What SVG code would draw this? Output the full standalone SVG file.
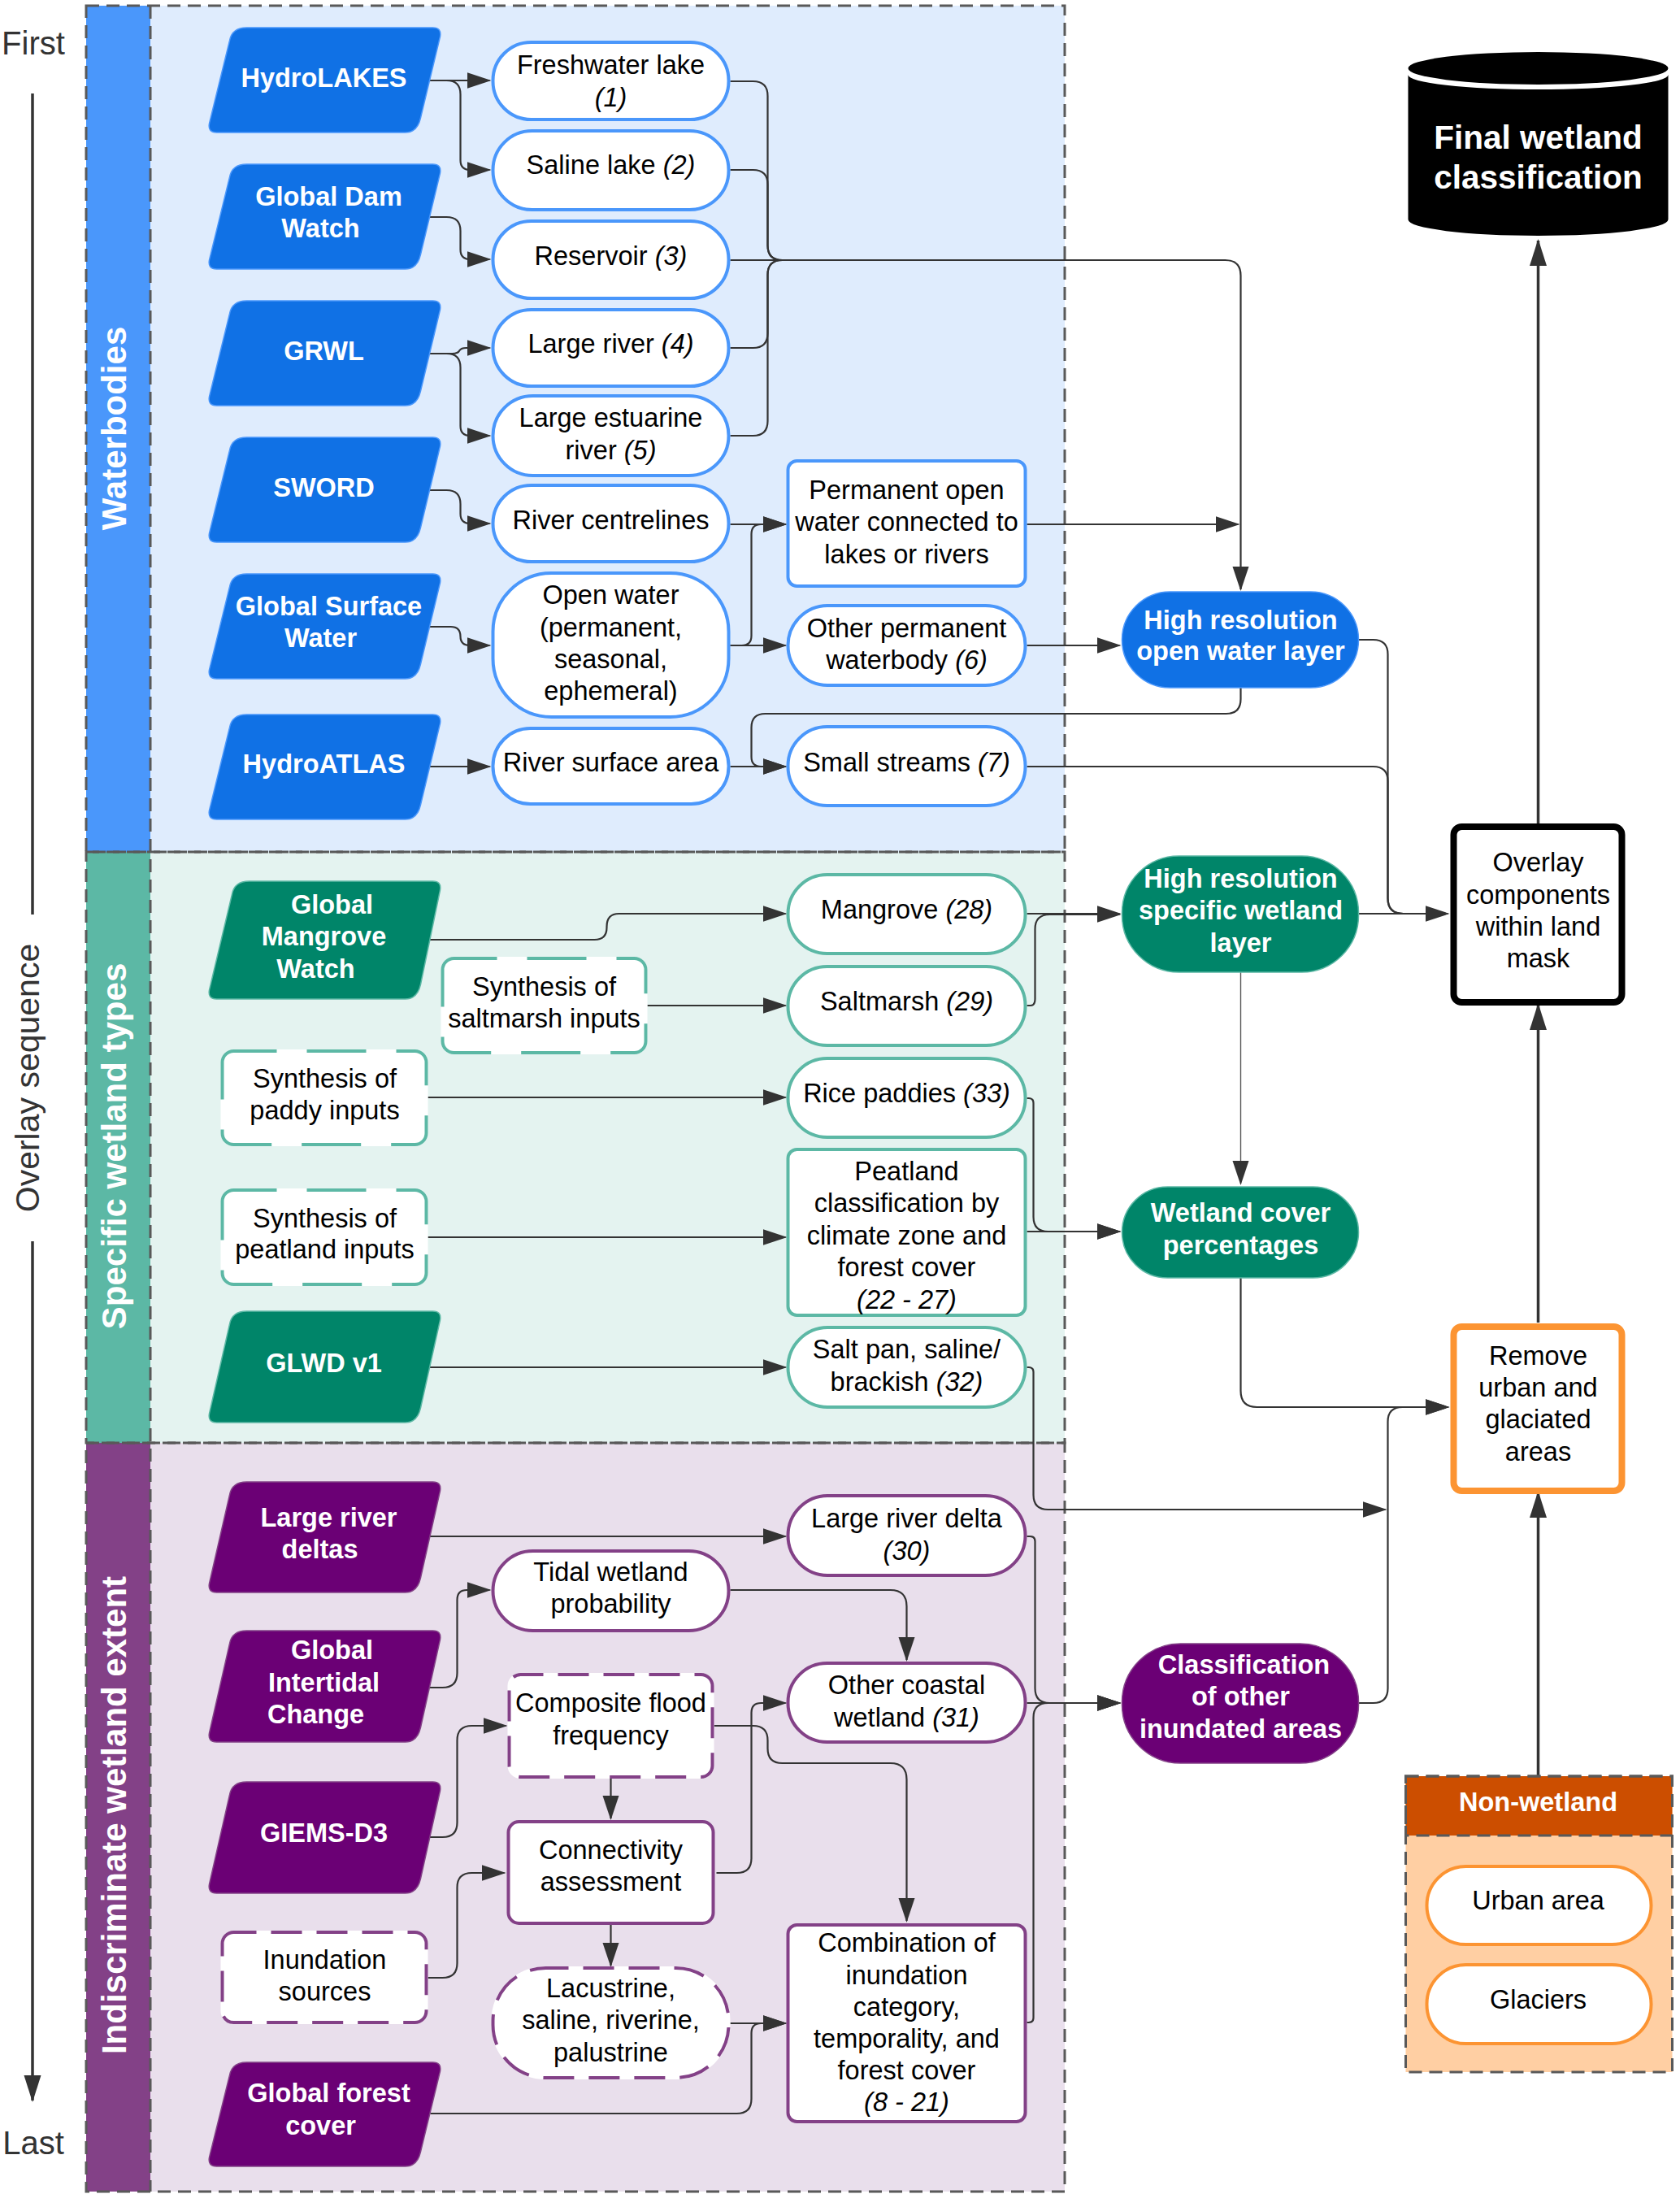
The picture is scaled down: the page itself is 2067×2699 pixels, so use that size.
<svg xmlns="http://www.w3.org/2000/svg" width="2067" height="2699" viewBox="0 0 2067 2699">
<style>
text{font-family:"Liberation Sans",Arial,sans-serif;font-size:32.5px;text-anchor:middle;fill:#000}
.b{font-weight:700;fill:#fff}
.i{font-style:italic}
.h{font-weight:700;fill:#fff;font-size:42px}
.s{fill:#333;font-size:40px}
.frame{stroke:#595959;stroke-width:3;stroke-dasharray:16 9;fill:none}
.cn{fill:none;stroke:#333;stroke-width:2.2}
.cn path{marker-end:url(#a)}
.cn path.n{marker-end:none}
.cn path.t{stroke-width:1.4;stroke:#555}
.th{fill:none;stroke:#333;stroke-width:3.5;marker-end:url(#b)}
.cn path.th{marker-end:url(#b);stroke-width:3.5}
.pl{fill:none;stroke:#333;stroke-width:3.5}
.bl{fill:#fff;stroke:#4a97fb;stroke-width:4}
.gr{fill:#fff;stroke:#5cb8a5;stroke-width:4}
.pu{fill:#fff;stroke:#834187;stroke-width:4}
.or{fill:#fff;stroke:#fc9432;stroke-width:4}
.dbl{fill:#1071e5;stroke:#4a97fb;stroke-width:1.5}
.dgr{fill:#008569;stroke:#5cb8a5;stroke-width:1.5}
.dpu{fill:#6b0075;stroke:#834187;stroke-width:1.5}
.u{fill:#fff;stroke:#fff;stroke-width:4}
.dg{fill:none;stroke:#5cb8a5;stroke-width:4;stroke-dasharray:73 37;stroke-dashoffset:20}
.dp{fill:none;stroke:#834187;stroke-width:4;stroke-dasharray:38 18;stroke-dashoffset:10}
</style>
<defs>
<marker id="a" markerUnits="userSpaceOnUse" markerWidth="32" markerHeight="22" refX="28" refY="11" orient="auto"><path d="M0 1 L30 11 L0 21 Z" fill="#333"/></marker>
<marker id="b" markerUnits="userSpaceOnUse" markerWidth="36" markerHeight="24" refX="31" refY="12" orient="auto"><path d="M0 1.500 L33 12 L0 22.500 Z" fill="#333"/></marker>
</defs>
<rect width="2067" height="2699" fill="#fff"/>

<g id="sections">
<rect x="185" y="7" width="1125" height="1041" fill="#dfecfd"/>
<rect x="106" y="7" width="79" height="1041" fill="#4a97fb"/>
<rect x="185" y="1048" width="1125" height="727" fill="#e4f3f0"/>
<rect x="106" y="1048" width="79" height="727" fill="#5cb8a5"/>
<rect x="185" y="1775" width="1125" height="921" fill="#e9dfec"/>
<rect x="106" y="1775" width="79" height="921" fill="#834187"/>
<rect class="frame" x="106" y="7" width="1204" height="1041"/>
<rect class="frame" x="106" y="1048" width="1204" height="727"/>
<rect class="frame" x="106" y="1775" width="1204" height="921"/>
<path class="frame" d="M185 7V2696"/>
<text class="h" transform="translate(155 527) rotate(-90)">Waterbodies</text>
<text class="h" transform="translate(155 1410) rotate(-90)">Specific wetland types</text>
<text class="h" transform="translate(155 2233) rotate(-90)">Indiscriminate wetland extent</text>
</g>

<g id="sequence">
<text class="s" x="41" y="67">First</text>
<text class="s" x="41" y="2650">Last</text>
<text class="s" style="font-size:41px" transform="translate(48 1326) rotate(-90)">Overlay sequence</text>
<path class="pl" d="M40 115V1125"/>
<path class="th" d="M40 1527V2584"/>
</g>

<g transform="translate(1.500 0)">
<g id="connectors" class="cn">
<path d="M526 99H601"/>
<path d="M526 99H548Q565 99 565 116V197Q565 209 577 209H601"/>
<path d="M526 267H548Q565 267 565 284V307Q565 319 577 319H601"/>
<path d="M526 435H555Q562 435 564 431Q566 428 572 428H601"/>
<path d="M526 435H548Q565 435 565 452V524Q565 536 577 536H601"/>
<path d="M526 603H548Q565 603 565 620V632Q565 644 577 644H601"/>
<path d="M526 771H553Q565 771 565 783Q565 794 577 794H601"/>
<path d="M527 943H601"/>
<path class="n" d="M897 100H925Q943 100 943 118V302Q943 320 961 320"/>
<path class="n" d="M897 209H925Q943 209 943 227V302Q943 320 961 320"/>
<path d="M897 320H1506Q1525 320 1525 339V725"/>
<path class="n" d="M897 428H925Q943 428 943 410V338Q943 320 961 320"/>
<path class="n" d="M897 536H925Q943 536 943 518V338Q943 320 961 320"/>
<path d="M897 645H965"/>
<path d="M897 794H965"/>
<path d="M897 794H911Q923 794 923 782V657Q923 645 935 645H965"/>
<path d="M1262 645H1522"/>
<path d="M1262 794H1376"/>
<path d="M1525 846V860Q1525 878 1507 878H940Q923 878 923 895V931Q923 943 935 943H965"/>
<path d="M897 943H965"/>
<path class="n" d="M1670 787H1688Q1706 787 1706 805V1105Q1706 1124 1725 1124"/>
<path class="n" d="M1262 943H1688Q1706 943 1706 961V1105Q1706 1124 1725 1124"/>
<path d="M1670 1124H1780"/>
<path d="M525 1156H730Q745 1156 745 1141V1140Q745 1124 760 1124H965"/>
<path d="M795 1237H965"/>
<path d="M525 1350H965"/>
<path d="M525 1522H965"/>
<path d="M526 1682H965"/>
<path d="M526 1890H965"/>
<path d="M1262 1124H1376"/>
<path d="M1262 1237H1266Q1272 1237 1272 1229V1143Q1272 1125 1290 1125H1376"/>
<path d="M1262 1351H1264Q1270 1351 1270 1357V1497Q1270 1515 1288 1515H1376"/>
<path d="M1262 1515H1376"/>
<path class="t" d="M1525 1196V1456"/>
<path d="M1525 1572V1711Q1525 1731 1545 1731H1780"/>
<path d="M1670 2095H1688Q1706 2095 1706 2077V1749Q1706 1731 1724 1731H1780"/>
<path d="M1262 1682H1264Q1270 1682 1270 1688V1839Q1270 1857 1288 1857H1703"/>
<path d="M1262 1890H1266Q1272 1890 1272 1896V2077Q1272 2095 1290 2095H1376"/>
<path d="M1262 2095H1376"/>
<path d="M1262 2488H1264Q1270 2488 1270 2482V2113Q1270 2095 1288 2095H1376"/>
<path d="M526 2076H543Q561 2076 561 2058V1968Q561 1956 573 1956H601"/>
<path d="M897 1956H1094Q1114 1956 1114 1976V2042"/>
<path d="M526 2260H543Q561 2260 561 2242V2141Q561 2123 579 2123H621"/>
<path d="M877 2123H925Q943 2123 943 2141V2151Q943 2169 961 2169H1094Q1114 2169 1114 2189V2363"/>
<path d="M750 2186V2237"/>
<path d="M750 2366V2418"/>
<path d="M880 2304H905Q923 2304 923 2286V2107Q923 2095 935 2095H965"/>
<path d="M525 2433H543Q561 2433 561 2415V2322Q561 2304 579 2304H619"/>
<path d="M897 2489H965"/>
<path d="M528 2600H905Q923 2600 923 2582V2501Q923 2489 935 2489H965"/>
<path class="th" d="M1891 1014V296"/>
<path class="th" d="M1891 1627V1236"/>
<path class="th" d="M1891 2185V1836"/>
</g>

<g id="hydrolakes"><path class="dbl" d="M302 34H531Q542 34 540 45L516 145Q512 163 497 163H265Q254 163 256 152L281 50Q284 34 302 34Z"/><text class="b" x="397" y="107">HydroLAKES</text></g>
<g id="global-dam-watch"><path class="dbl" d="M302 202H531Q542 202 540 213L516 313Q512 331 497 331H265Q254 331 256 320L281 218Q284 202 302 202Z"/><text class="b" x="403" y="253">Global Dam</text><text class="b" x="393" y="292">Watch</text></g>
<g id="grwl"><path class="dbl" d="M302 370H531Q542 370 540 381L516 481Q512 499 497 499H265Q254 499 256 488L281 386Q284 370 302 370Z"/><text class="b" x="397" y="443">GRWL</text></g>
<g id="sword"><path class="dbl" d="M302 538H531Q542 538 540 549L516 649Q512 667 497 667H265Q254 667 256 656L281 554Q284 538 302 538Z"/><text class="b" x="397" y="611">SWORD</text></g>
<g id="global-surface-water"><path class="dbl" d="M302 706H531Q542 706 540 717L516 817Q512 835 497 835H265Q254 835 256 824L281 722Q284 706 302 706Z"/><text class="b" x="403" y="757">Global Surface</text><text class="b" x="393" y="796">Water</text></g>
<g id="hydroatlas"><path class="dbl" d="M302 879H531Q542 879 540 890L516 990Q512 1008 497 1008H265Q254 1008 256 997L281 895Q284 879 302 879Z"/><text class="b" x="397" y="951">HydroATLAS</text></g>

<g id="freshwater-lake"><rect class="bl" x="605" y="52" width="290" height="95" rx="47"/><text x="750" y="91">Freshwater lake</text><text class="i" x="750" y="131">(1)</text></g>
<g id="saline-lake"><rect class="bl" x="605" y="161" width="290" height="97" rx="48"/><text x="750" y="214">Saline lake <tspan class="i">(2)</tspan></text></g>
<g id="reservoir"><rect class="bl" x="605" y="272" width="290" height="95" rx="47"/><text x="750" y="326">Reservoir <tspan class="i">(3)</tspan></text></g>
<g id="large-river"><rect class="bl" x="605" y="381" width="290" height="94" rx="47"/><text x="750" y="434">Large river <tspan class="i">(4)</tspan></text></g>
<g id="large-estuarine-river"><rect class="bl" x="605" y="487" width="290" height="98" rx="49"/><text x="750" y="525">Large estuarine</text><text x="750" y="565">river <tspan class="i">(5)</tspan></text></g>
<g id="river-centrelines"><rect class="bl" x="605" y="597" width="290" height="94" rx="47"/><text x="750" y="651">River centrelines</text></g>
<g id="open-water"><rect class="bl" x="605" y="705" width="290" height="177" rx="72"/><text x="750" y="743">Open water</text><text x="750" y="783">(permanent,</text><text x="750" y="822">seasonal,</text><text x="750" y="861">ephemeral)</text></g>
<g id="river-surface-area"><rect class="bl" x="605" y="896" width="290" height="93" rx="46"/><text x="750" y="949">River surface area</text></g>
<g id="permanent-open-water"><rect class="bl" x="968" y="567" width="292" height="154" rx="11"/><text x="1114" y="614">Permanent open</text><text x="1114" y="653">water connected to</text><text x="1114" y="693">lakes or rivers</text></g>
<g id="other-permanent-waterbody"><rect class="bl" x="968" y="745" width="292" height="98" rx="49"/><text x="1114" y="784">Other permanent</text><text x="1114" y="823">waterbody <tspan class="i">(6)</tspan></text></g>
<g id="small-streams"><rect class="bl" x="968" y="894" width="292" height="97" rx="48"/><text x="1114" y="949">Small streams <tspan class="i">(7)</tspan></text></g>
<g id="high-res-open-water"><rect class="dbl" x="1379" y="728" width="291" height="118" rx="59"/><text class="b" x="1525" y="774">High resolution</text><text class="b" x="1525" y="812">open water layer</text></g>

<g id="global-mangrove-watch"><path class="dgr" d="M305 1084H531Q542 1084 540 1095L516 1211Q512 1229 497 1229H265Q254 1229 256 1218L284 1100Q287 1084 305 1084Z"/><text class="b" x="407" y="1124">Global</text><text class="b" x="397" y="1163">Mangrove</text><text class="b" x="387" y="1203">Watch</text></g>
<g id="synthesis-saltmarsh"><rect class="u" x="543" y="1179" width="250" height="116" rx="14"/><rect class="dg" x="543" y="1179" width="250" height="116" rx="14"/><text x="668" y="1225">Synthesis of</text><text x="668" y="1264">saltmarsh inputs</text></g>
<g id="synthesis-paddy"><rect class="u" x="272" y="1293" width="251" height="115" rx="14"/><rect class="dg" x="272" y="1293" width="251" height="115" rx="14"/><text x="398" y="1338">Synthesis of</text><text x="398" y="1377">paddy inputs</text></g>
<g id="synthesis-peatland"><rect class="u" x="272" y="1464" width="251" height="116" rx="14"/><rect class="dg" x="272" y="1464" width="251" height="116" rx="14"/><text x="398" y="1510">Synthesis of</text><text x="398" y="1548">peatland inputs</text></g>
<g id="glwd"><path class="dgr" d="M302 1613H531Q542 1613 540 1624L516 1732Q512 1750 497 1750H265Q254 1750 256 1739L281 1629Q284 1613 302 1613Z"/><text class="b" x="397" y="1688">GLWD v1</text></g>
<g id="mangrove"><rect class="gr" x="968" y="1076" width="292" height="97" rx="48"/><text x="1114" y="1130">Mangrove <tspan class="i">(28)</tspan></text></g>
<g id="saltmarsh"><rect class="gr" x="968" y="1189" width="292" height="97" rx="48"/><text x="1114" y="1243">Saltmarsh <tspan class="i">(29)</tspan></text></g>
<g id="rice-paddies"><rect class="gr" x="968" y="1302" width="292" height="97" rx="48"/><text x="1114" y="1356">Rice paddies <tspan class="i">(33)</tspan></text></g>
<g id="peatland"><rect class="gr" x="968" y="1414" width="292" height="204" rx="11"/><text x="1114" y="1452">Peatland</text><text x="1114" y="1491">classification by</text><text x="1114" y="1531">climate zone and</text><text x="1114" y="1570">forest cover</text><text class="i" x="1114" y="1610">(22 - 27)</text></g>
<g id="salt-pan"><rect class="gr" x="968" y="1633" width="292" height="98" rx="49"/><text x="1114" y="1671">Salt pan, saline/</text><text x="1114" y="1711">brackish <tspan class="i">(32)</tspan></text></g>
<g id="high-res-specific"><rect class="dgr" x="1379" y="1053" width="291" height="143" rx="70"/><text class="b" x="1525" y="1092">High resolution</text><text class="b" x="1525" y="1131">specific wetland</text><text class="b" x="1525" y="1171">layer</text></g>
<g id="wetland-cover"><rect class="dgr" x="1379" y="1460" width="291" height="112" rx="56"/><text class="b" x="1525" y="1503">Wetland cover</text><text class="b" x="1525" y="1543">percentages</text></g>

<g id="large-river-deltas"><path class="dpu" d="M302 1823H531Q542 1823 540 1834L516 1941Q512 1959 497 1959H265Q254 1959 256 1948L281 1839Q284 1823 302 1823Z"/><text class="b" x="403" y="1878">Large river</text><text class="b" x="392" y="1917">deltas</text></g>
<g id="global-intertidal-change"><path class="dpu" d="M302 2006H531Q542 2006 540 2017L516 2125Q512 2143 497 2143H265Q254 2143 256 2132L281 2022Q284 2006 302 2006Z"/><text class="b" x="407" y="2041">Global</text><text class="b" x="397" y="2081">Intertidal</text><text class="b" x="387" y="2120">Change</text></g>
<g id="giems-d3"><path class="dpu" d="M302 2192H531Q542 2192 540 2203L516 2311Q512 2329 497 2329H265Q254 2329 256 2318L281 2208Q284 2192 302 2192Z"/><text class="b" x="397" y="2266">GIEMS-D3</text></g>
<g id="inundation-sources"><rect class="u" x="272" y="2377" width="251" height="111" rx="14"/><rect class="dp" x="272" y="2377" width="251" height="111" rx="14"/><text x="398" y="2422">Inundation</text><text x="398" y="2461">sources</text></g>
<g id="global-forest-cover"><path class="dpu" d="M302 2537H531Q542 2537 540 2548L516 2647Q512 2665 497 2665H265Q254 2665 256 2654L281 2553Q284 2537 302 2537Z"/><text class="b" x="403" y="2586">Global forest</text><text class="b" x="393" y="2626">cover</text></g>
<g id="tidal-wetland"><rect class="pu" x="605" y="1908" width="290" height="98" rx="49"/><text x="750" y="1945">Tidal wetland</text><text x="750" y="1984">probability</text></g>
<g id="composite-flood"><rect class="u" x="625" y="2060" width="250" height="126" rx="14"/><rect class="dp" x="625" y="2060" width="250" height="126" rx="14"/><text x="750" y="2106">Composite flood</text><text x="750" y="2146">frequency</text></g>
<g id="connectivity"><rect class="pu" x="624" y="2241" width="252" height="125" rx="13"/><text x="750" y="2287">Connectivity</text><text x="750" y="2326">assessment</text></g>
<g id="lacustrine"><rect class="u" x="605" y="2421" width="290" height="135" rx="65"/><rect class="dp" x="605" y="2421" width="290" height="135" rx="65"/><text x="750" y="2457">Lacustrine,</text><text x="750" y="2496">saline, riverine,</text><text x="750" y="2536">palustrine</text></g>
<g id="large-river-delta"><rect class="pu" x="968" y="1840" width="292" height="98" rx="49"/><text x="1114" y="1879">Large river delta</text><text class="i" x="1114" y="1919">(30)</text></g>
<g id="other-coastal"><rect class="pu" x="968" y="2046" width="292" height="97" rx="48"/><text x="1114" y="2084">Other coastal</text><text x="1114" y="2124">wetland <tspan class="i">(31)</tspan></text></g>
<g id="combination"><rect class="pu" x="968" y="2368" width="292" height="242" rx="11"/><text x="1114" y="2401">Combination of</text><text x="1114" y="2441">inundation</text><text x="1114" y="2480">category,</text><text x="1114" y="2519">temporality, and</text><text x="1114" y="2558">forest cover</text><text class="i" x="1114" y="2597">(8 - 21)</text></g>
<g id="classification-inundated"><rect class="dpu" x="1379" y="2022" width="291" height="147" rx="72"/><text class="b" x="1529" y="2059">Classification</text><text class="b" x="1525" y="2098">of other</text><text class="b" x="1525" y="2138">inundated areas</text></g>

<g id="final-classification"><ellipse cx="1891" cy="84" rx="160" ry="20" fill="#000"/><path d="M1731 92V270A160 20 0 0 0 2051 270V92A160 18 0 0 1 1731 92Z" fill="#000"/><text class="b" style="font-size:40.500px" x="1891" y="183">Final wetland</text><text class="b" style="font-size:40.500px" x="1891" y="232">classification</text></g>
<g id="overlay"><rect x="1787" y="1017" width="207" height="216" rx="10" fill="#fff" stroke="#000" stroke-width="8"/><text x="1891" y="1072">Overlay</text><text x="1891" y="1112">components</text><text x="1891" y="1151">within land</text><text x="1891" y="1190">mask</text></g>
<g id="remove-urban"><rect x="1787" y="1632" width="207" height="202" rx="10" fill="#fff" stroke="#fc9432" stroke-width="8"/><text x="1891" y="1679">Remove</text><text x="1891" y="1718">urban and</text><text x="1891" y="1757">glaciated</text><text x="1891" y="1797">areas</text></g>
<g id="non-wetland"><rect x="1728" y="2185" width="328" height="364" fill="#ffcfa3"/><rect x="1728" y="2185" width="328" height="73" fill="#cc4e00"/><rect class="frame" x="1728" y="2185" width="328" height="364"/><rect class="frame" x="1728" y="2185" width="328" height="73"/><text class="b" x="1891" y="2228">Non-wetland</text></g>
<g id="urban-area"><rect class="or" x="1754" y="2296" width="276" height="96" rx="48"/><text x="1891" y="2349">Urban area</text></g>
<g id="glaciers"><rect class="or" x="1754" y="2417" width="276" height="97" rx="48"/><text x="1891" y="2471">Glaciers</text></g>
</g>
</svg>
